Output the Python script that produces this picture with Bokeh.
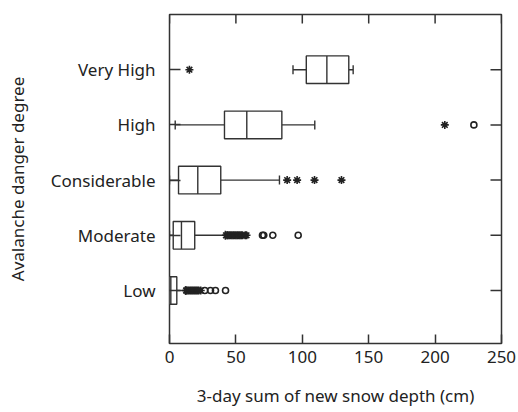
import math
from bokeh.plotting import figure
from bokeh.models import FixedTicker, Range1d, ColumnDataSource
from bokeh.embed import file_html
from bokeh.resources import INLINE

# ---- data ----
categories = ["Low", "Moderate", "Considerable", "High", "Very High"]
whisker_low = [0, 0, 0, 4.3, 93]
q1 = [0, 2.8, 6.8, 41.4, 103]
median = [1, 9, 21.3, 58.2, 118.5]
q3 = [5.5, 19, 38.6, 84.6, 135]
whisker_high = [12, 42, 82.8, 109.4, 138.3]

# mild outliers (circles)
circle_cat = ["Low", "Low", "Low", "Low", "Moderate", "Moderate", "Moderate", "Moderate", "High"]
circle_val = [26.6, 30.9, 34.6, 42.2, 70, 71, 77.8, 96.9, 229.2]

# extreme outliers (asterisks)
star_cat = (["Low"] * 12 + ["Moderate"] * 16 + ["Considerable"] * 4 + ["High", "Very High"])
star_val = ([12.5, 13, 14, 15, 16, 17, 18, 19, 20, 21, 22, 23.5]
            + [42.5, 43.5, 44, 45, 46, 47, 48, 49, 50, 51, 52, 53, 54, 55, 57, 58]
            + [88.6, 96.1, 109.2, 129.5]
            + [207.3, 15])

x_ticks = [0, 50, 100, 150, 200, 250]
x_min, x_max = 0, 250
y_min, y_max = 0.04, 6.0

pos = {c: i + 1 for i, c in enumerate(categories)}
ypos = [pos[c] for c in categories]

FONT = "Noto Sans"
FS = "17px"
LC = "#333333"
TC = "#222222"

p = figure(width=518, height=412, output_backend="svg", toolbar_location=None,
           x_range=Range1d(x_min, x_max), y_range=Range1d(y_min, y_max),
           min_border_left=169, min_border_right=17, min_border_top=14, min_border_bottom=69)
p.frame_width = 332
p.frame_height = 329
p.grid.visible = False
p.outline_line_color = LC
p.outline_line_width = 1.5
p.background_fill_color = "white"
p.border_fill_color = "white"

BOX_H = 0.5
src = ColumnDataSource(dict(y=ypos, wl=whisker_low, q1=q1, med=median, q3=q3, wh=whisker_high,
                            ylo=[y - BOX_H / 2 for y in ypos], yhi=[y + BOX_H / 2 for y in ypos]))

# whiskers
p.segment(x0="wl", y0="y", x1="q1", y1="y", source=src, line_color=LC, line_width=1.4)
p.segment(x0="q3", y0="y", x1="wh", y1="y", source=src, line_color=LC, line_width=1.4)
# caps
p.scatter(x="wl", y="y", source=src, marker="dash", angle=math.pi / 2, size=9, line_color=LC, line_width=1.4)
p.scatter(x="wh", y="y", source=src, marker="dash", angle=math.pi / 2, size=9, line_color=LC, line_width=1.4)
# boxes
p.hbar(y="y", left="q1", right="q3", height=BOX_H, source=src, fill_color="white",
       line_color=LC, line_width=1.4)
# medians
p.segment(x0="med", y0="ylo", x1="med", y1="yhi", source=src, line_color=LC, line_width=1.4)

# outliers
p.scatter(x=circle_val, y=[pos[c] for c in circle_cat], marker="circle", size=6,
          fill_color=None, line_color=TC, line_width=1.6)
p.scatter(x=star_val, y=[pos[c] for c in star_cat], marker="asterisk", size=8,
          line_color=TC, line_width=1.6)

# inward ticks on top and right edges (clipped to the frame)
p.scatter(x=x_ticks, y=[y_max] * len(x_ticks), marker="dash", angle=math.pi / 2, size=18,
          line_color=LC, line_width=1.5)
p.scatter(x=[x_max] * len(ypos), y=ypos, marker="dash", size=22,
          line_color=LC, line_width=1.5)

# bottom axis
ax = p.xaxis[0]
ax.ticker = FixedTicker(ticks=x_ticks)
ax.axis_label = "3-day sum of new snow depth (cm)"
ax.axis_label_text_font = FONT
ax.axis_label_text_font_style = "normal"
ax.axis_label_text_font_size = FS
ax.axis_label_text_color = TC
ax.axis_label_standoff = 18
ax.major_label_text_font = FONT
ax.major_label_text_font_size = FS
ax.major_label_text_color = TC
ax.major_label_standoff = 7
ax.major_tick_in = 9
ax.major_tick_out = 0
ax.minor_tick_line_color = None
ax.axis_line_color = None
ax.major_tick_line_color = LC
ax.major_tick_line_width = 1.5

# left axis
ya = p.yaxis[0]
ya.ticker = FixedTicker(ticks=ypos)
ya.major_label_overrides = {pos[c]: c for c in categories}
ya.axis_label = "Avalanche danger degree"
ya.axis_label_text_font = FONT
ya.axis_label_text_font_style = "normal"
ya.axis_label_text_font_size = FS
ya.axis_label_text_color = TC
ya.axis_label_standoff = 19
ya.major_label_text_font = FONT
ya.major_label_text_font_size = FS
ya.major_label_text_color = TC
ya.major_label_standoff = 14
ya.major_tick_in = 11
ya.major_tick_out = 0
ya.minor_tick_line_color = None
ya.axis_line_color = None
ya.major_tick_line_color = LC
ya.major_tick_line_width = 1.5

open("out.html", "w").write(file_html(p, INLINE))
